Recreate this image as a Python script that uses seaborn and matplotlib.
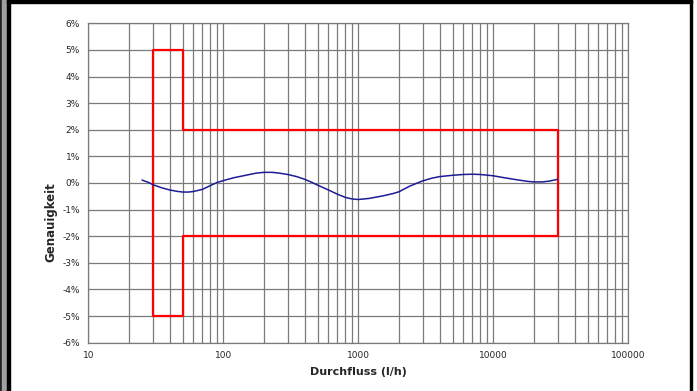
import numpy as np
import pandas as pd
import seaborn as sns
import matplotlib.pyplot as plt
from matplotlib.ticker import FuncFormatter, LogLocator, FixedLocator
from matplotlib.patches import Rectangle

flow = [25, 28, 30, 35, 40, 45, 50, 55, 60, 70, 80, 90, 100, 120, 150, 175,
        200, 230, 260, 300, 350, 400, 450, 500, 600, 700, 800, 900, 1000,
        1200, 1500, 1800, 2000, 2400, 2800, 3000, 3500, 4000, 5000, 6000,
        7000, 8000, 10000, 12000, 15000, 18000, 20000, 23000, 26000, 30000]
error = [0.11, 0.02, -0.06, -0.18, -0.26, -0.31, -0.34, -0.34, -0.32, -0.24,
         -0.10, 0.02, 0.09, 0.20, 0.30, 0.37, 0.40, 0.40, 0.37, 0.32, 0.24,
         0.14, 0.03, -0.08, -0.26, -0.42, -0.54, -0.60, -0.62, -0.58, -0.49,
         -0.40, -0.33, -0.12, 0.02, 0.08, 0.18, 0.24, 0.29, 0.32, 0.33, 0.32,
         0.27, 0.20, 0.12, 0.06, 0.04, 0.04, 0.07, 0.14]

# tolerance envelope (red)
limit_x = [30, 30, 50, 50, 30000, 30000, 50, 50, 30]
limit_y = [-5, 5, 5, 2, 2, -2, -2, -5, -5]

y_ticks = [-6, -5, -4, -3, -2, -1, 0, 1, 2, 3, 4, 5, 6]
x_ticks = [10, 100, 1000, 10000, 100000]

curve_df = pd.DataFrame({'flow': flow, 'error': error})
limit_df = pd.DataFrame({'flow': limit_x, 'error': limit_y})

sns.set_style('white')
plt.rcParams['font.family'] = ['DejaVu Sans']

fig = plt.figure(figsize=(6.97, 3.91), dpi=100)
ax = fig.add_axes([88.3 / 697, 1 - 342.7 / 391, 540 / 697, 319.4 / 391])

ax.set_xscale('log')
ax.set_xlim(10, 100000)
ax.set_ylim(-6, 6)

# grid below the lines
ax.yaxis.set_major_locator(FixedLocator(y_ticks))
ax.xaxis.set_major_locator(FixedLocator(x_ticks))
ax.xaxis.set_minor_locator(LogLocator(base=10, subs=np.arange(2, 10)))
ax.grid(True, which='both', color='#7a7a7a', lw=0.9)
ax.set_axisbelow(True)

sns.lineplot(data=limit_df, x='flow', y='error', sort=False, color='#ff0000',
             lw=1.6, ax=ax, estimator=None)
sns.lineplot(data=curve_df, x='flow', y='error', sort=False, color='#1c1c96',
             lw=1.1, ax=ax, estimator=None)

ax.yaxis.set_major_formatter(FuncFormatter(lambda v, p: f'{v:.0f}%'))
ax.xaxis.set_major_formatter(FuncFormatter(lambda v, p: f'{v:.0f}'))
ax.tick_params(axis='both', which='major', labelsize=6.5, length=3,
               color='#7a7a7a', width=0.9, pad=3)
ax.tick_params(axis='x', which='minor', length=0)
ax.tick_params(axis='x', which='major', length=0, pad=6)
for s in ax.spines.values():
    s.set_color('#7a7a7a')
    s.set_linewidth(0.9)

ax.set_xlabel('Durchfluss (l/h)', fontsize=8, fontweight='bold')
ax.set_ylabel('Genauigkeit', fontsize=8.5, fontweight='bold')
ax.xaxis.set_label_coords(0.5, -0.075)
ax.yaxis.set_label_coords(-0.058, 0.378)

# outer frame of the screenshot
fig.patches.append(Rectangle((0, 0), 2 / 697, 1, transform=fig.transFigure,
                             color='#222222', zorder=10))
fig.patches.append(Rectangle((2 / 697, 0), 5 / 697, 1, transform=fig.transFigure,
                             color='#a0a0a0', zorder=10))
fig.patches.append(Rectangle((7 / 697, 0), 2.5 / 697, 1, transform=fig.transFigure,
                             color='black', zorder=10))
fig.patches.append(Rectangle((7 / 697, 1 - 3 / 391), 685 / 697, 3 / 391,
                             transform=fig.transFigure, color='black', zorder=10))
fig.patches.append(Rectangle((689.5 / 697, 0), 2.5 / 697, 1, transform=fig.transFigure,
                             color='black', zorder=10))

fig.savefig('out.png', dpi=100)
